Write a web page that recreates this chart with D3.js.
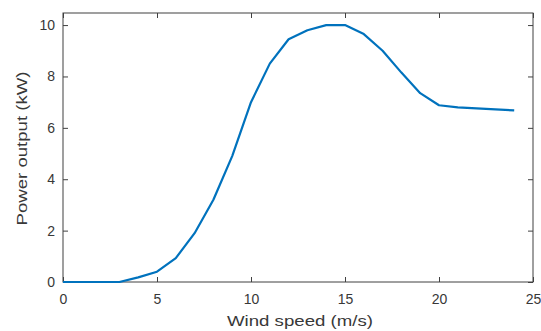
<!DOCTYPE html>
<html><head><meta charset="utf-8">
<script src="https://cdn.jsdelivr.net/npm/d3@7"></script>
<style>body{margin:0;background:#fff}svg{display:block}text{font-family:"Liberation Sans",Arial,sans-serif}</style>
</head><body><svg id="c" width="541" height="331"></svg>
<script>
const windSpeed = [0,1,2,3,4,5,6,7,8,9,10,11,12,13,14,15,16,17,18,19,20,21,22,23,24];
const powerKW   = [0,0,0,0,0.18,0.4,0.93,1.9,3.2,4.9,7.0,8.5,9.45,9.8,10.0,10.0,9.65,9.0,8.15,7.35,6.88,6.8,6.76,6.72,6.68];
const xTicks = [0,5,10,15,20,25];
const yTicks = [0,2,4,6,8,10];
const xLabel = "Wind speed (m/s)";
const yLabel = "Power output (kW)";

const svg = d3.select("#c");
const L=63,R=533,T=13,B=282;
const x = d3.scaleLinear().domain([0,25]).range([L,R]);
const y = d3.scaleLinear().domain([0,10.47]).range([B,T]);
const axCol="#404040";

svg.append("rect").attr("x",L).attr("y",T).attr("width",R-L).attr("height",B-T)
  .attr("fill","#fff").attr("stroke",axCol).attr("stroke-width",1);

const gx=svg.append("g").attr("transform",`translate(0,${B})`)
  .call(d3.axisBottom(x).tickValues(xTicks).tickSize(-5).tickPadding(12).tickFormat(d3.format("d")));
const gxt=svg.append("g").attr("transform",`translate(0,${T})`)
  .call(d3.axisTop(x).tickValues(xTicks).tickSize(-5).tickFormat(""));
const gy=svg.append("g").attr("transform",`translate(${L},0)`)
  .call(d3.axisLeft(y).tickValues(yTicks).tickSize(-5).tickPadding(8).tickFormat(d3.format("d")));
const gyr=svg.append("g").attr("transform",`translate(${R},0)`)
  .call(d3.axisRight(y).tickValues(yTicks).tickSize(-5).tickFormat(""));
[gx,gxt,gy,gyr].forEach(g=>{
  g.select(".domain").remove();
  g.selectAll(".tick line").attr("stroke",axCol);
  g.selectAll(".tick text").attr("fill","#383838").attr("font-size",14);
});

const line=d3.line().x((d,i)=>x(windSpeed[i])).y(d=>y(d));
svg.append("path").datum(powerKW).attr("d",line).attr("fill","none")
  .attr("stroke","#0072BD").attr("stroke-width",2.2).attr("stroke-linejoin","round");

svg.append("text").attr("x",(L+R)/2+2).attr("y",326).attr("text-anchor","middle")
  .attr("font-size",15).attr("fill","#383838")
  .attr("textLength",146).attr("lengthAdjust","spacingAndGlyphs").text(xLabel);
svg.append("text").attr("transform",`translate(27,${(T+B)/2+1}) rotate(-90)`).attr("text-anchor","middle")
  .attr("font-size",15).attr("fill","#383838")
  .attr("textLength",154).attr("lengthAdjust","spacingAndGlyphs").text(yLabel);
</script></body></html>
